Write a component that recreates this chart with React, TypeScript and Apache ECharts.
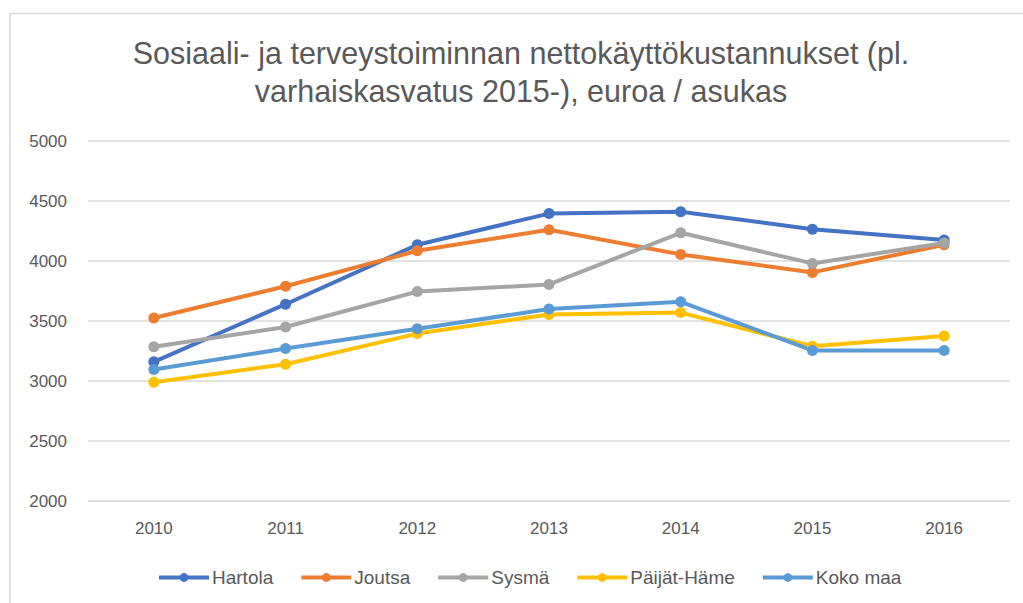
import React, { useEffect, useRef } from "react";
import * as echarts from "echarts";

const years = ["2010", "2011", "2012", "2013", "2014", "2015", "2016"];
const hartola = [3160, 3640, 4135, 4395, 4410, 4265, 4175];
const joutsa = [3525, 3790, 4085, 4260, 4055, 3905, 4135];
const sysma = [3285, 3450, 3745, 3805, 4235, 3980, 4150];
const paijatHame = [2990, 3140, 3395, 3555, 3570, 3290, 3375];
const kokoMaa = [3095, 3270, 3435, 3600, 3660, 3255, 3255];

const seriesNames = ["Hartola", "Joutsa", "Sysmä", "Päijät-Häme", "Koko maa"];
const seriesColors = ["#4472C4", "#ED7D31", "#A5A5A5", "#FFC000", "#5B9BD5"];
const seriesData = [hartola, joutsa, sysma, paijatHame, kokoMaa];

const titleText = "Sosiaali- ja terveystoiminnan nettokäyttökustannukset (pl.\nvarhaiskasvatus 2015-), euroa / asukas";

const FONT = "'Liberation Sans', Arial, sans-serif";

export default function App() {
  const ref = useRef<HTMLDivElement>(null);
  useEffect(() => {
    if (!ref.current) return;
    const chart = echarts.init(ref.current, null, { renderer: "svg" });
    chart.setOption({
      animation: false,
      backgroundColor: "#ffffff",
      textStyle: { fontFamily: FONT },
      graphic: [
        {
          type: "rect",
          shape: { x: 10, y: 13.5, width: 1100, height: 700 },
          style: { fill: "none", stroke: "#d9d9d9", lineWidth: 1.5 },
          silent: true,
        },
        {
          type: "text",
          x: 521,
          y: 34,
          style: {
            text: titleText,
            fill: "#595959",
            fontSize: 30.5,
            fontFamily: FONT,
            textAlign: "center",
            textVerticalAlign: "top",
            lineHeight: 38,
          },
        },
      ],
      grid: { left: 88, right: 13, top: 141, bottom: 102 },
      legend: {
        left: 152,
        top: 563,
        itemWidth: 50,
        itemHeight: 11,
        itemGap: 26,
        lineStyle: { width: 4 },
        textStyle: { color: "#595959", fontSize: 19, fontFamily: FONT, padding: [0, 0, 0, -2] },
        data: seriesNames,
      },
      xAxis: {
        type: "category",
        data: years,
        boundaryGap: true,
        axisLine: { show: true, lineStyle: { color: "#d9d9d9", width: 1 } },
        axisTick: { show: false },
        axisLabel: { color: "#595959", fontSize: 17, margin: 19, fontFamily: FONT },
      },
      yAxis: {
        type: "value",
        min: 2000,
        max: 5000,
        interval: 500,
        axisLine: { show: false },
        axisTick: { show: false },
        splitLine: { lineStyle: { color: "#d9d9d9", width: 1.5 } },
        axisLabel: {
          color: "#595959",
          fontSize: 17,
          margin: 21,
          fontFamily: FONT,
          formatter: (v: number) => String(v),
        },
      },
      series: seriesNames.map((name, i) => ({
        name,
        type: "line",
        data: seriesData[i],
        color: seriesColors[i],
        symbol: "circle",
        symbolSize: 11,
        lineStyle: { width: 4, color: seriesColors[i] },
        itemStyle: { color: seriesColors[i] },
      })),
    });
    return () => chart.dispose();
  }, []);
  return (
    <div
      ref={ref}
      style={{ position: "absolute", left: 0, top: 0, width: 1023, height: 603 }}
    />
  );
}
